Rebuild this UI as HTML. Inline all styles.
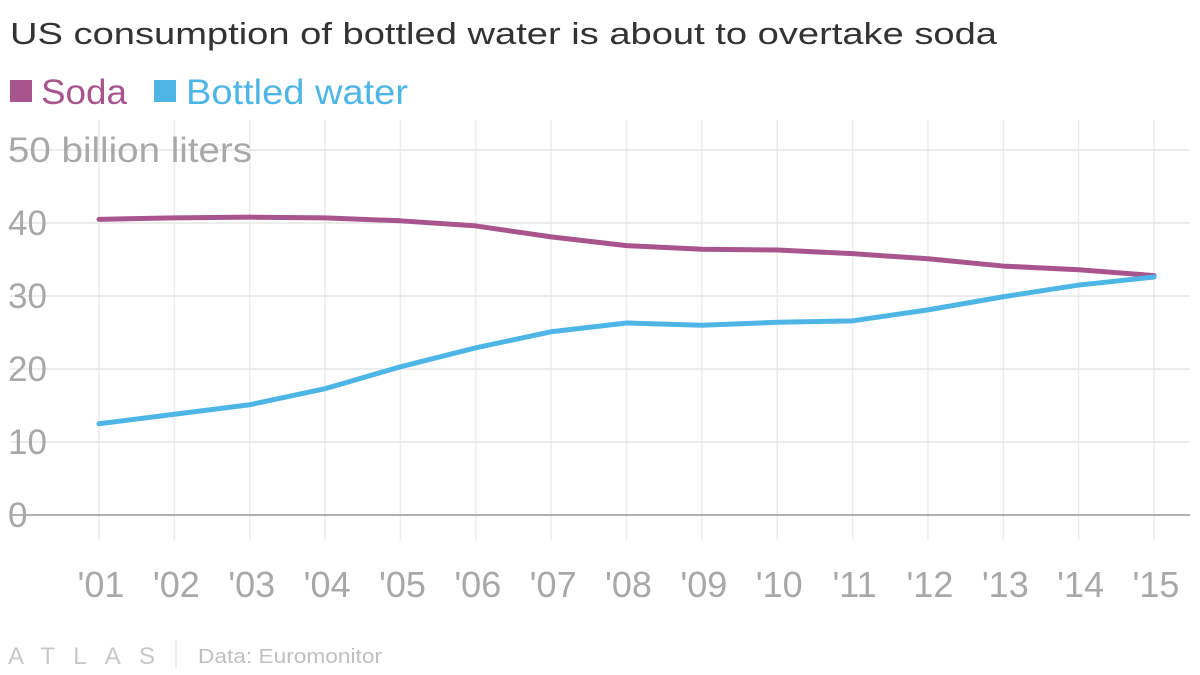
<!DOCTYPE html>
<html><head><meta charset="utf-8"><style>
body{margin:0;background:#fff;font-family:"Liberation Sans",sans-serif;}
svg{display:block}
</style></head><body>
<svg width="1200" height="675">
<text x="10" y="44" font-size="31" fill="#333" textLength="987" lengthAdjust="spacingAndGlyphs">US consumption of bottled water is about to overtake soda</text>
<g>
<rect x="10" y="80" width="22" height="22" fill="#a8558e"/>
<text x="41" y="104" font-size="35" fill="#a8558e" textLength="86" lengthAdjust="spacingAndGlyphs">Soda</text>
<rect x="154" y="80" width="22" height="22" fill="#4eb6e6"/>
<text x="186" y="104" font-size="35" fill="#4eb6e6" textLength="222" lengthAdjust="spacingAndGlyphs">Bottled water</text>
</g>
<g id="grid"></g>
<g id="marks"></g>
<g>
<text x="8" y="664" font-size="24" fill="#c8c8c8" textLength="147" lengthAdjust="spacing">ATLAS</text>
<line x1="176" y1="640" x2="176" y2="668" stroke="#ddd"/>
<text x="198" y="663" font-size="20" fill="#c0c0c0" textLength="184" lengthAdjust="spacingAndGlyphs">Data: Euromonitor</text>
</g>
</svg>
<script>
const years=["'01","'02","'03","'04","'05","'06","'07","'08","'09","'10","'11","'12","'13","'14","'15"];
const soda=[40.5,40.7,40.8,40.7,40.3,39.6,38.1,36.9,36.4,36.3,35.8,35.1,34.1,33.6,32.8];
const water=[12.5,13.8,15.1,17.3,20.3,22.9,25.1,26.3,26.0,26.4,26.6,28.1,29.9,31.5,32.6];
const yTicks=[0,10,20,30,40,50];
const yTickLabels=["0","10","20","30","40","50 billion liters"];
const NS="http://www.w3.org/2000/svg";
const x=i=>99+i*(1154-99)/(years.length-1);
const y=v=>515-v*7.3;
const grid=document.getElementById('grid'),marks=document.getElementById('marks');
function mk(tag,attrs,parent){const e=document.createElementNS(NS,tag);for(const k in attrs)e.setAttribute(k,attrs[k]);parent.appendChild(e);return e;}
years.forEach((yr,i)=>{
 const l=mk('line',{x1:x(i),x2:x(i),y1:120,y2:540,stroke:'#ececec','stroke-width':1.5},grid);
 
 
 const t=mk('text',{x:x(i)+2,y:597,'font-size':36,fill:'#a8a8a8','text-anchor':'middle'},grid);
 t.textContent=yr;
 
 
});
yTicks.forEach((v,i)=>{
 const l=mk('line',{x1:10,x2:1190,y1:y(v),y2:y(v),stroke:v===0?'#999':'#e6e6e6','stroke-width':1.5},grid);
 
 
 const attrs={x:8,y:y(v)+12,'font-size':35,fill:'#a8a8a8'};
 if(v===50){attrs.textLength=244;attrs.lengthAdjust='spacingAndGlyphs';}
 const t=mk('text',attrs,grid);
 t.textContent=yTickLabels[i];
 
 
});
function line(vals,color,name){
 const p=mk('polyline',{points:vals.map((v,i)=>x(i)+','+y(v)).join(' '),fill:'none',stroke:color,'stroke-width':5,'stroke-linejoin':'round','stroke-linecap':'round'},marks);
 
 
}
line(soda,'#a8558e','soda-line');
line(water,'#4eb6e6','bottled-water-line');
</script>
</body></html>
